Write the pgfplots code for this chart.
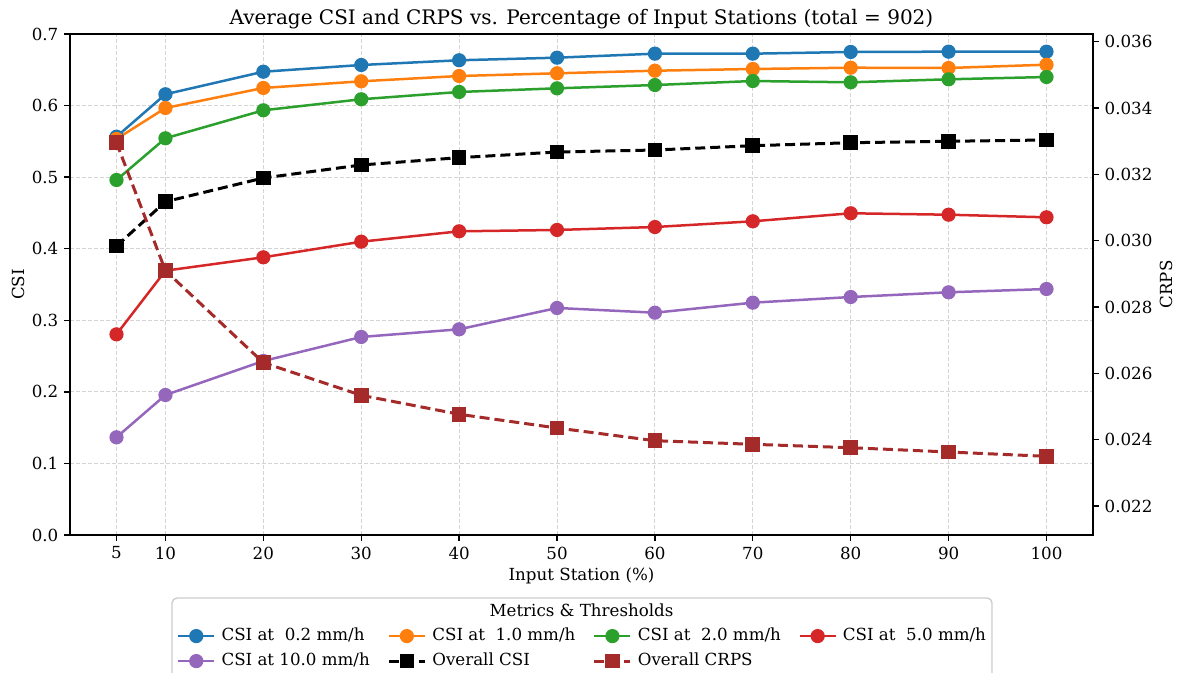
\documentclass[border=0pt]{standalone}
\usepackage{pgfplots}
\pgfplotsset{compat=1.18}
\usepackage{pgfplotstable}
\usepackage{fontspec}
\setmainfont{DejaVu Serif}

\definecolor{tabblue}{HTML}{1F77B4}
\definecolor{taborange}{HTML}{FF7F0E}
\definecolor{tabgreen}{HTML}{2CA02C}
\definecolor{tabred}{HTML}{D62728}
\definecolor{tabpurple}{HTML}{9467BD}
\definecolor{crpsbrown}{HTML}{A52A2A}

% CSI per threshold, overall CSI, overall CRPS
\pgfplotstableread{
pct  t02    t10    t20    t50    t100   csi    crps
5    0.5565 0.5533 0.4960 0.2804 0.1365 0.4038 0.032955
10   0.6158 0.5966 0.5543 0.3693 0.1956 0.4657 0.029095
20   0.6473 0.6246 0.5934 0.3880 0.2431 0.4988 0.026321
30   0.6567 0.6339 0.6088 0.4098 0.2767 0.5170 0.025338
40   0.6633 0.6413 0.6190 0.4243 0.2874 0.5272 0.024765
50   0.6669 0.6451 0.6241 0.4262 0.3172 0.5351 0.024352
60   0.6725 0.6487 0.6287 0.4303 0.3106 0.5379 0.023969
70   0.6725 0.6511 0.6343 0.4383 0.3246 0.5439 0.023860
80   0.6749 0.6529 0.6325 0.4495 0.3325 0.5481 0.023758
90   0.6753 0.6525 0.6367 0.4475 0.3391 0.5501 0.023628
100  0.6753 0.6571 0.6399 0.4439 0.3437 0.5519 0.023498
}\data

\pgfplotsset{
  every axis/.append style={
    scale only axis, width=613.8pt, height=300.6pt,
    xmin=0.25, xmax=104.75,
    tick align=outside, major tick length=3.5pt,
    every tick/.style={black, line width=0.8pt},
    axis line style={line width=0.8pt},
    tick label style={font=\fontsize{10}{12}\selectfont},
    label style={font=\fontsize{10}{12}\selectfont},
    /pgf/number format/assume math mode=true,
  },
  solid line/.style={line width=1.5pt, mark=*, mark size=3.5pt, mark options={solid}},
  dashed line/.style={line width=1.8pt, dash pattern=on 6pt off 3pt, mark=square*, mark size=3.5pt, mark options={solid}},
}

\begin{document}
\begin{tikzpicture}
\useasboundingbox (-42pt,-82.8pt) rectangle (665.4pt,321pt);

% legend frame and title
\draw[black!20, line width=0.8pt, rounded corners=3pt, fill=white] (61.2pt,-37.8pt) rectangle (553.2pt,-100pt);
\node[font=\fontsize{10}{12}\selectfont, anchor=base, inner sep=0pt] at (306.9pt,-49.2pt) {Metrics \& Thresholds};

\begin{axis}[
  xtick={5,10,20,30,40,50,60,70,80,90,100},
  xtick pos=bottom,
  ymin=0, ymax=0.7,
  ytick={0,0.1,...,0.7},
  ytick pos=left,
  yticklabel style={/pgf/number format/fixed, /pgf/number format/precision=1, /pgf/number format/fixed zerofill},
  grid=major,
  major grid style={black!17, line width=0.6pt, dash pattern=on 2.4pt off 1.2pt},
  xlabel={Input Station (\%)},
  ylabel={CSI},
  xlabel style={at={(axis description cs:0.5,0)}, anchor=base, yshift=-27.6pt},
  ylabel style={at={(axis description cs:0,0.5)}, anchor=center, yshift=31.2pt},
  title={Average CSI and CRPS vs. Percentage of Input Stations (total = 902)},
  title style={font=\fontsize{12}{14}\selectfont, at={(axis description cs:0.5,1)}, anchor=base, yshift=-0.6pt},
  legend columns=4,
  legend style={at={(0.1043,-0.182)}, anchor=north west, draw=none, fill=none, inner sep=0pt,
    font=\fontsize{10}{12}\selectfont,
    nodes={inner xsep=0pt, inner ysep=1pt, text height=7.5pt, text depth=2pt},
    /tikz/row sep=3.5pt,
    /tikz/every odd column/.append style={column sep=3.6pt},
    /tikz/every even column/.append style={column sep=10.5pt}},
  legend cell align=left,
  legend image code/.code={\draw[mark repeat=2, mark phase=2, #1] plot coordinates {(0pt,0pt) (10.8pt,0pt) (21.6pt,0pt)};},
]
\addplot[tabblue, solid line] table[x=pct, y=t02] {\data};
\addlegendentry{CSI at\ \ 0.2 mm/h}
\addplot[taborange, solid line] table[x=pct, y=t10] {\data};
\addlegendentry{CSI at\ \ 1.0 mm/h}
\addplot[tabgreen, solid line] table[x=pct, y=t20] {\data};
\addlegendentry{CSI at\ \ 2.0 mm/h}
\addplot[tabred, solid line] table[x=pct, y=t50] {\data};
\addlegendentry{CSI at\ \ 5.0 mm/h}
\addplot[tabpurple, solid line] table[x=pct, y=t100] {\data};
\addlegendentry{CSI at 10.0 mm/h}
\addplot[black, dashed line] table[x=pct, y=csi] {\data};
\addlegendentry{Overall CSI}
\addlegendimage{crpsbrown, dashed line}
\addlegendentry{Overall CRPS}
\end{axis}

\begin{axis}[
  axis x line=none,
  axis y line*=right,
  ymin=0.021126, ymax=0.03623,
  ytick={0.022,0.024,0.026,0.028,0.030,0.032,0.034,0.036},
  scaled y ticks=false,
  yticklabel style={/pgf/number format/fixed, /pgf/number format/precision=3, /pgf/number format/fixed zerofill},
  ylabel={CRPS},
  ylabel style={at={(axis description cs:1,0.5)}, anchor=center, yshift=-43.8pt},
]
\addplot[crpsbrown, dashed line] table[x=pct, y=crps] {\data};
\end{axis}
\end{tikzpicture}
\end{document}
